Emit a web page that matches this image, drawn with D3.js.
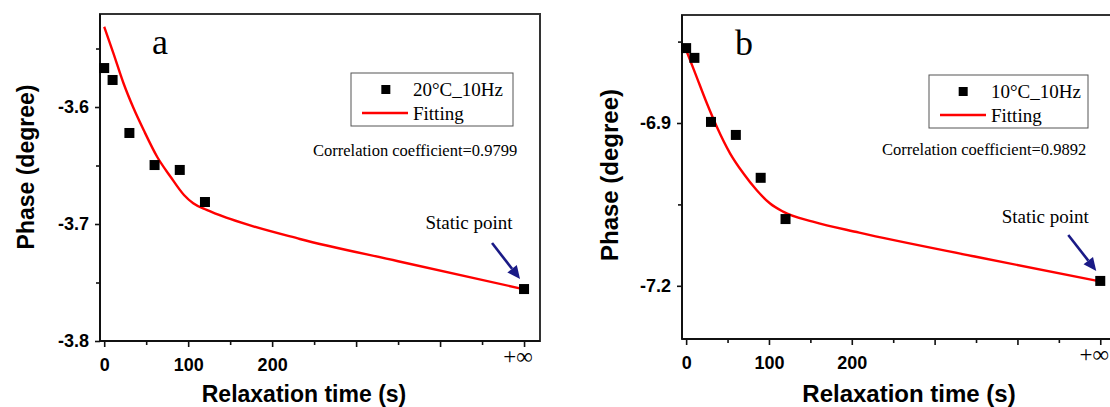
<!DOCTYPE html>
<html>
<head>
<meta charset="utf-8">
<script src="https://cdn.jsdelivr.net/npm/d3@7"></script>
<style>
  body { margin: 0; background: #fff; }
  svg { display: block; }
</style>
</head>
<body>
<svg id="canvas" width="1110" height="407"></svg>
<script>
// panel a: 20°C, 10Hz  (x = 500 stands for +infinity, the static point)
let timeA = [0, 10, 30, 60, 90, 120, 500];
let phaseA = [-3.5667, -3.5769, -3.6222, -3.6496, -3.6538, -3.6812, -3.7556];
let fitTimeA = [0, 11, 23, 35, 47, 63, 79, 95, 106, 122, 150, 233, 350, 499];
let fitPhaseA = [-3.5314, -3.5541, -3.5797, -3.6011, -3.6197, -3.6425, -3.6596,
  -3.6752, -3.6823, -3.6880, -3.6957, -3.7128, -3.7318, -3.7556];

// panel b: 10°C, 10Hz
let timeB = [0, 10, 30, 60, 90, 120, 500];
let phaseB = [-6.762, -6.780, -6.898, -6.922, -7.001, -7.077, -7.191];
let fitTimeB = [0, 11, 25, 37, 53, 69, 85, 101, 117, 153, 209, 350, 497];
let fitPhaseB = [-6.7656, -6.8085, -6.8637, -6.9068, -6.9558, -6.9926, -7.0234,
  -7.0479, -7.0633, -7.0818, -7.1020, -7.1465, -7.1910];

let xMajor = [0, 100, 200, 300, 400, 500];
let xMinor = [50, 150, 250, 350, 450];
let xLabels = ["0", "100", "200", "", "", ""];

let yMajorA = [-3.8, -3.7, -3.6];
let yMinorA = [-3.75, -3.65, -3.55];
let yMajorB = [-7.2, -6.9];
let yMinorB = [-7.05, -6.75];

let canvas = d3.select("#canvas");

let drawPanel = (cfg) => {
  let x = d3.scaleLinear().domain([-5, 519]).range([cfg.left, cfg.right]);
  let y = d3.scaleLinear().domain(cfg.yDomain).range([cfg.bottom, cfg.top]);
  let g = canvas.append("g");

  // frame (top + right)
  g.append("rect")
    .attr("x", cfg.left).attr("y", cfg.top)
    .attr("width", cfg.right - cfg.left).attr("height", cfg.bottom - cfg.top)
    .attr("fill", "none").attr("stroke", "#333").attr("stroke-width", 2);

  // x axis
  let xAxis = g.append("g").attr("transform", "translate(0," + cfg.bottom + ")");
  xAxis.call(d3.axisBottom(x).tickValues(xMajor).tickSize(6)
    .tickFormat((d, i) => xLabels[i]));
  xAxis.append("g").call(d3.axisBottom(x).tickValues(xMinor).tickSize(4).tickFormat(""));
  xAxis.selectAll(".domain").remove();
  xAxis.selectAll("line").attr("stroke", "#111").attr("stroke-width", 1.6);
  xAxis.selectAll("text")
    .attr("font-family", "Liberation Sans, Arial, sans-serif")
    .attr("font-weight", "bold").attr("font-size", 18).attr("fill", "#000")
    .attr("dy", "1.15em");
  g.append("text")
    .attr("x", x(500) - 6).attr("y", cfg.bottom + 23)
    .attr("text-anchor", "middle")
    .attr("font-family", "Liberation Serif, Times New Roman, serif")
    .attr("font-size", 23)
    .text("+\u221e");

  // y axis
  let yAxis = g.append("g").attr("transform", "translate(" + cfg.left + ",0)");
  yAxis.call(d3.axisLeft(y).tickValues(cfg.yMajor).tickSize(5).tickPadding(6)
    .tickFormat((d) => d.toFixed(1)));
  yAxis.append("g").call(d3.axisLeft(y).tickValues(cfg.yMinor).tickSize(4).tickFormat(""));
  yAxis.selectAll(".domain").remove();
  yAxis.selectAll("line").attr("stroke", "#111").attr("stroke-width", 1.6);
  yAxis.selectAll("text")
    .attr("font-family", "Liberation Sans, Arial, sans-serif")
    .attr("font-weight", "bold").attr("font-size", 18).attr("fill", "#000");

  // axis lines
  g.append("line")
    .attr("x1", cfg.left).attr("x2", cfg.right).attr("y1", cfg.bottom).attr("y2", cfg.bottom)
    .attr("stroke", "#111").attr("stroke-width", 2);
  g.append("line")
    .attr("x1", cfg.left).attr("x2", cfg.left).attr("y1", cfg.top).attr("y2", cfg.bottom)
    .attr("stroke", "#111").attr("stroke-width", 2);

  // axis titles
  g.append("text")
    .attr("x", cfg.xTitleX).attr("y", 402)
    .attr("text-anchor", "middle")
    .attr("font-family", "Liberation Sans, Arial, sans-serif")
    .attr("font-weight", "bold").attr("font-size", cfg.titleSize)
    .text("Relaxation time (s)");
  g.append("text")
    .attr("transform", "translate(" + cfg.yTitleX + "," + cfg.yTitleY + ") rotate(-90)")
    .attr("text-anchor", "middle")
    .attr("font-family", "Liberation Sans, Arial, sans-serif")
    .attr("font-weight", "bold").attr("font-size", cfg.titleSize)
    .text("Phase (degree)");

  // fitting curve
  let fitData = cfg.fitTime.map((t, i) => [t, cfg.fitPhase[i]]);
  g.append("path")
    .datum(fitData)
    .attr("fill", "none").attr("stroke", "#ff0000").attr("stroke-width", 2.4)
    .attr("d", d3.line().x((d) => x(d[0])).y((d) => y(d[1])).curve(d3.curveMonotoneX));

  // measured points
  let pts = cfg.time.map((t, i) => [t, cfg.phase[i]]);
  g.selectAll(".pt")
    .data(pts)
    .enter()
    .append("rect")
    .attr("x", (d) => x(d[0]) - 5).attr("y", (d) => y(d[1]) - 5)
    .attr("width", 10).attr("height", 10)
    .attr("fill", "#000");

  // panel letter
  g.append("text")
    .attr("x", cfg.letterX).attr("y", cfg.letterY)
    .attr("font-family", "Liberation Serif, Times New Roman, serif")
    .attr("font-size", 36)
    .text(cfg.letter);

  // legend
  let lg = g.append("g").attr("transform", "translate(" + cfg.legX + "," + cfg.legY + ")");
  lg.append("rect")
    .attr("width", cfg.legW).attr("height", 53)
    .attr("fill", "#fff").attr("stroke", "#555").attr("stroke-width", 1);
  lg.append("rect")
    .attr("x", cfg.legW * 0.215 - 4.5).attr("y", 12).attr("width", 9).attr("height", 9)
    .attr("fill", "#000");
  lg.append("line")
    .attr("x1", 11).attr("x2", 57).attr("y1", 40).attr("y2", 40)
    .attr("stroke", "#ff0000").attr("stroke-width", 2.4);
  lg.append("text")
    .attr("x", 62).attr("y", 23)
    .attr("font-family", "Liberation Serif, Times New Roman, serif")
    .attr("font-size", 19)
    .text(cfg.series);
  lg.append("text")
    .attr("x", 62).attr("y", 47)
    .attr("font-family", "Liberation Serif, Times New Roman, serif")
    .attr("font-size", 19)
    .text("Fitting");

  g.append("text")
    .attr("x", cfg.corrX).attr("y", cfg.corrY)
    .attr("font-family", "Liberation Serif, Times New Roman, serif")
    .attr("font-size", 16.5)
    .text("Correlation coefficient=" + cfg.corr);

  // static point annotation
  let sx = x(500), sy = y(cfg.phase[cfg.phase.length - 1]);
  g.append("text")
    .attr("x", sx - 55).attr("y", sy - cfg.annoDy)
    .attr("text-anchor", "middle")
    .attr("font-family", "Liberation Serif, Times New Roman, serif")
    .attr("font-size", 19)
    .text("Static point");
  let x1 = sx - 32, y1 = sy - 46, x2 = sx - 4, y2 = sy - 10;
  let ang = Math.atan2(y2 - y1, x2 - x1);
  let hl = 13, hw = 6;
  g.append("line")
    .attr("x1", x1).attr("y1", y1)
    .attr("x2", x2 - Math.cos(ang) * hl).attr("y2", y2 - Math.sin(ang) * hl)
    .attr("stroke", "#1a1a86").attr("stroke-width", 2.6);
  let bx = x2 - Math.cos(ang) * hl, by = y2 - Math.sin(ang) * hl;
  g.append("path")
    .attr("d", "M" + x2 + "," + y2 +
      "L" + (bx + Math.sin(ang) * hw) + "," + (by - Math.cos(ang) * hw) +
      "L" + (bx - Math.sin(ang) * hw) + "," + (by + Math.cos(ang) * hw) + "Z")
    .attr("fill", "#1a1a86");
};

drawPanel({
  left: 100, right: 540, top: 14, bottom: 341,
  yDomain: [-3.8, -3.5205], yMajor: yMajorA, yMinor: yMinorA,
  time: timeA, phase: phaseA, fitTime: fitTimeA, fitPhase: fitPhaseA,
  titleSize: 23, xTitleX: 304, yTitleX: 34, yTitleY: 167,
  letter: "a", letterX: 152, letterY: 54,
  legX: 351, legY: 73, legW: 162, series: "20\u00b0C_10Hz",
  corr: "0.9799", corrX: 313, corrY: 156, annoDy: 60
});

drawPanel({
  left: 682, right: 1116, top: 15, bottom: 339,
  yDomain: [-7.298, -6.701], yMajor: yMajorB, yMinor: yMinorB,
  time: timeB, phase: phaseB, fitTime: fitTimeB, fitPhase: fitPhaseB,
  titleSize: 24, xTitleX: 909, yTitleX: 618, yTitleY: 175,
  letter: "b", letterX: 735, letterY: 55,
  legX: 929, legY: 75, legW: 159, series: "10\u00b0C_10Hz",
  corr: "0.9892", corrX: 882, corrY: 155, annoDy: 58
});
</script>
</body>
</html>
